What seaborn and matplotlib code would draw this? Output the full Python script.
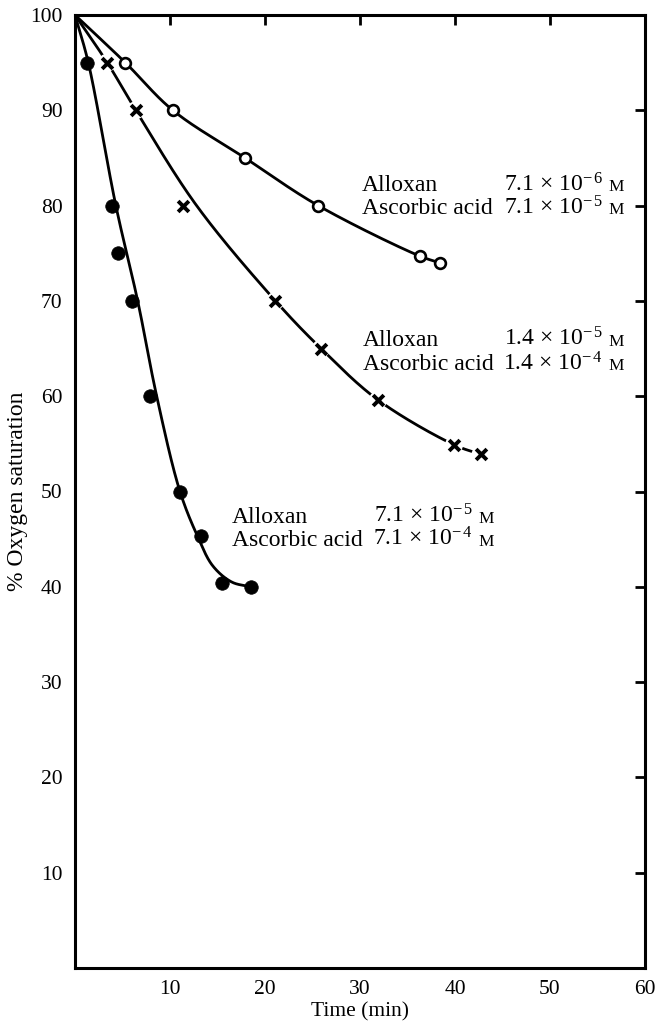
import numpy as np
import matplotlib
matplotlib.use("Agg")
import matplotlib.pyplot as plt
import seaborn as sns

# ---- data ----
# Alloxan 7.1e-6 M / Ascorbic acid 7.1e-5 M (open circles)
open_t = [5.3, 10.3, 17.9, 25.6, 36.3, 38.4]
open_o2 = [95, 90, 85, 80, 74.7, 74.0]
open_curve_t = [0, 5.3, 10.3, 17.9, 25.6, 36.3, 38.4]
open_curve_o2 = [100, 95, 90, 85, 80, 74.7, 74.0]

# Alloxan 1.4e-5 M / Ascorbic acid 1.4e-4 M (crosses)
cross_t = [3.4, 6.4, 11.4, 21.1, 25.9, 31.9, 39.9, 42.7]
cross_o2 = [95, 90, 80, 70, 65, 59.6, 54.9, 53.9]
cross_curve_t = [0, 3.4, 6.4, 12.8, 21.1, 25.9, 31.9, 39.9, 42.7]
cross_curve_o2 = [100, 95, 90, 80, 70, 65, 59.6, 54.9, 53.9]

# Alloxan 7.1e-5 M / Ascorbic acid 7.1e-4 M (filled circles)
filled_t = [1.3, 3.9, 4.5, 6.0, 7.9, 11.1, 13.3, 15.5, 18.5]
filled_o2 = [95, 80, 75, 70, 60, 50, 45.3, 40.4, 40.0]
filled_curve_t = [0, 1.4, 4.3, 6.6, 8.6, 11.05, 12.9, 14.5, 16.5, 18.5]
filled_curve_o2 = [100, 95, 80, 70, 60, 50, 45.3, 42.2, 40.5, 40.0]

x_ticks = [10, 20, 30, 40, 50, 60]
y_ticks = [10, 20, 30, 40, 50, 60, 70, 80, 90, 100]

labels = [
    ("Alloxan", "Ascorbic acid", r"7.1 × 10$^{-\,6}$", r"7.1 × 10$^{-\,5}$"),
    ("Alloxan", "Ascorbic acid", r"1.4 × 10$^{-\,5}$", r"1.4 × 10$^{-\,4}$"),
    ("Alloxan", "Ascorbic acid", r"7.1 × 10$^{-\,5}$", r"7.1 × 10$^{-\,4}$"),
]


def smooth(x, y, n=40, alpha=0.5):
    """Centripetal Catmull-Rom curve through the hand-drawn curve knots."""
    P = np.column_stack([x, y]).astype(float)
    P = np.vstack([2 * P[0] - P[1], P, 2 * P[-1] - P[-2]])
    out = []
    for i in range(1, len(P) - 2):
        p0, p1, p2, p3 = P[i - 1], P[i], P[i + 1], P[i + 2]
        t0 = 0.0
        t1 = t0 + np.linalg.norm(p1 - p0) ** alpha
        t2 = t1 + np.linalg.norm(p2 - p1) ** alpha
        t3 = t2 + np.linalg.norm(p3 - p2) ** alpha
        t = np.linspace(t1, t2, n)[:, None]
        a1 = (t1 - t) / (t1 - t0) * p0 + (t - t0) / (t1 - t0) * p1
        a2 = (t2 - t) / (t2 - t1) * p1 + (t - t1) / (t2 - t1) * p2
        a3 = (t3 - t) / (t3 - t2) * p2 + (t - t2) / (t3 - t2) * p3
        b1 = (t2 - t) / (t2 - t0) * a1 + (t - t0) / (t2 - t0) * a2
        b2 = (t3 - t) / (t3 - t1) * a2 + (t - t1) / (t3 - t1) * a3
        c = (t2 - t) / (t2 - t1) * b1 + (t - t1) / (t2 - t1) * b2
        out.append(c if i == 1 else c[1:])
    c = np.vstack(out)
    return c[:, 0], c[:, 1]


sns.set_theme(style="white")
plt.rcParams["font.family"] = ["Liberation Serif", "DejaVu Serif"]
plt.rcParams["mathtext.fontset"] = "custom"
plt.rcParams["mathtext.rm"] = "Liberation Serif"
plt.rcParams["mathtext.it"] = "Liberation Serif:italic"
plt.rcParams["mathtext.bf"] = "Liberation Serif:bold"

fig = plt.figure(figsize=(6.6, 10.26), dpi=100)
ax = fig.add_axes([75 / 660, 1 - 968 / 1026, 570 / 660, 953 / 1026])

lw = 2.0
for ct, co in [(open_curve_t, open_curve_o2), (cross_curve_t, cross_curve_o2),
               (filled_curve_t, filled_curve_o2)]:
    sx, sy = smooth(ct, co)
    sns.lineplot(x=sx, y=sy, sort=False, estimator=None, color="black",
                 linewidth=lw, ax=ax, zorder=2)

# open circles
sns.scatterplot(x=open_t, y=open_o2, marker="o", s=60, facecolor="white",
                edgecolor="black", linewidth=1.9, ax=ax, zorder=4)
# white gaps behind crosses
sns.scatterplot(x=cross_t, y=cross_o2, marker="o", s=170, color="white",
                edgecolor="none", linewidth=0, ax=ax, zorder=3)
sns.scatterplot(x=cross_t, y=cross_o2, marker="x", s=60, color="black",
                linewidth=2.8, ax=ax, zorder=4)
# filled circles
sns.scatterplot(x=filled_t, y=filled_o2, marker="o", s=95, color="black",
                edgecolor="black", linewidth=0.5, ax=ax, zorder=4)

ax.set_xlim(0, 60)
ax.set_ylim(0, 100)
ax.set_xticks(x_ticks)
ax.set_yticks(y_ticks)
ax.set_xticklabels([str(v) for v in x_ticks])
ax.set_yticklabels([str(v) for v in y_ticks])
ax.tick_params(direction="in", length=7, width=2, top=True, right=True,
               labelsize=15.5, colors="black", pad=9)
for sp in ax.spines.values():
    sp.set_linewidth(2.2)
    sp.set_color("black")
    sp.set_visible(True)

ax.set_xlabel("Time (min)", fontsize=15.5, color="black")
ax.set_ylabel("% Oxygen saturation", fontsize=17, color="black")
ax.xaxis.set_label_coords(0.5, -0.036)
ax.yaxis.set_label_coords(-0.082, 0.5)

# annotation blocks: (left x, baseline line1, baseline line2, value end x, M x)
blocks = [(30.2, 81.5, 79.1, 55.6, 56.2),
          (30.3, 65.3, 62.7, 55.6, 56.2),
          (16.5, 46.7, 44.3, 41.9, 42.5)]
fs = 17
for (lx, b1, b2, vx, mx), (l1, l2, v1, v2) in zip(blocks, labels):
    ax.text(lx, b1, l1, fontsize=fs, ha="left", va="baseline", color="black")
    ax.text(lx, b2, l2, fontsize=fs, ha="left", va="baseline", color="black")
    ax.text(vx, b1, v1, fontsize=fs, ha="right", va="baseline", color="black")
    ax.text(vx, b2, v2, fontsize=fs, ha="right", va="baseline", color="black")
    ax.text(mx, b1, "M", fontsize=12.5, ha="left", va="baseline", color="black")
    ax.text(mx, b2, "M", fontsize=12.5, ha="left", va="baseline", color="black")

fig.savefig("out.png", dpi=100, facecolor="white")
